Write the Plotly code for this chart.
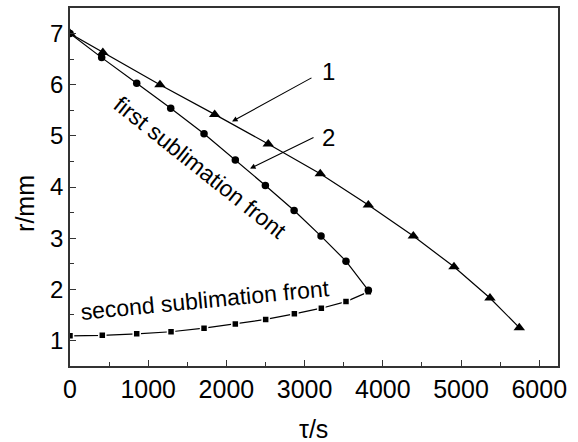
import plotly.graph_objects as go

# Data
t1 = [0, 420, 1150, 1850, 2535, 3200, 3815, 4390, 4910, 5370, 5745]
r1 = [7.0, 6.63, 6.0, 5.42, 4.84, 4.26, 3.65, 3.04, 2.44, 1.83, 1.25]

t2 = [0, 405, 853, 1288, 1714, 2114, 2498, 2866, 3210, 3529, 3815]
r2 = [7.0, 6.53, 6.03, 5.54, 5.04, 4.53, 4.03, 3.54, 3.04, 2.55, 1.98]

t3 = [0, 413, 853, 1292, 1714, 2114, 2502, 2869, 3214, 3529, 3815]
r3 = [1.09, 1.10, 1.13, 1.17, 1.24, 1.32, 1.41, 1.52, 1.63, 1.76, 1.95]

x_ticks = [0, 1000, 2000, 3000, 4000, 5000, 6000]
y_ticks = [1, 2, 3, 4, 5, 6, 7]

FONT = "Liberation Sans, Arial, sans-serif"

fig = go.Figure()
fig.add_trace(go.Scatter(x=t3, y=r3, mode="lines+markers",
                         line=dict(color="black", width=1.2),
                         marker=dict(symbol="square", size=7, color="black",
                                     line=dict(color="white", width=1.5))))
fig.add_trace(go.Scatter(x=t1, y=r1, mode="lines+markers",
                         line=dict(color="black", width=1.2),
                         marker=dict(symbol="triangle-up", size=10, color="black")))
fig.add_trace(go.Scatter(x=t2, y=r2, mode="lines+markers",
                         line=dict(color="black", width=1.2),
                         marker=dict(symbol="circle", size=7.5, color="black")))

axis_common = dict(showline=True, linecolor="#333", linewidth=1.5, mirror=True,
                   ticks="inside", ticklen=6, tickwidth=1.2, tickcolor="#333",
                   showgrid=False, zeroline=False)

fig.update_xaxes(range=[0, 6240], tickvals=x_ticks,
                 tickfont=dict(family=FONT, size=25, color="black"),
                 minor=dict(ticks="inside", ticklen=4, dtick=500, tick0=0, tickcolor="#333"),
                 **axis_common)
fig.update_yaxes(range=[0.5, 7.5], tickvals=y_ticks,
                 tickfont=dict(family=FONT, size=24, color="black"),
                 minor=dict(ticks="inside", ticklen=4, dtick=0.5, tick0=0, tickcolor="#333"),
                 **axis_common)

annotations = [
    dict(x=2072, y=5.28, ax=3107, ay=6.15, axref="x", ayref="y", xref="x", yref="y",
         text="", showarrow=True, arrowhead=2, arrowsize=1, arrowwidth=1.1, arrowcolor="black"),
    dict(x=2302, y=4.36, ax=3133, ay=4.98, axref="x", ayref="y", xref="x", yref="y",
         text="", showarrow=True, arrowhead=2, arrowsize=1, arrowwidth=1.1, arrowcolor="black"),
    dict(x=3308, y=6.25, text="1", showarrow=False, xref="x", yref="y",
         font=dict(family=FONT, size=24, color="black")),
    dict(x=3310, y=4.97, text="2", showarrow=False, xref="x", yref="y",
         font=dict(family=FONT, size=24, color="black")),
    dict(x=1675, y=4.38, text="first sublimation front", showarrow=False, xref="x", yref="y",
         textangle=38.5, font=dict(family=FONT, size=23, color="black")),
    dict(x=1726, y=1.80, text="second sublimation front", showarrow=False, xref="x", yref="y",
         textangle=-5.5, font=dict(family=FONT, size=23, color="black")),
    dict(x=-0.092, y=0.453, xref="paper", yref="paper", text="r/mm", showarrow=False,
         xanchor="center", yanchor="middle",
         textangle=-90, font=dict(family=FONT, size=25, color="black")),
    dict(x=0.498, y=-0.175, xref="paper", yref="paper", text="τ/s", showarrow=False,
         xanchor="center", yanchor="middle",
         font=dict(family=FONT, size=25, color="black")),
]

fig.update_layout(width=578, height=442,
                  margin=dict(l=70, r=20, t=6, b=76),
                  paper_bgcolor="white", plot_bgcolor="white",
                  showlegend=False, annotations=annotations)

fig.write_html("out.html")
